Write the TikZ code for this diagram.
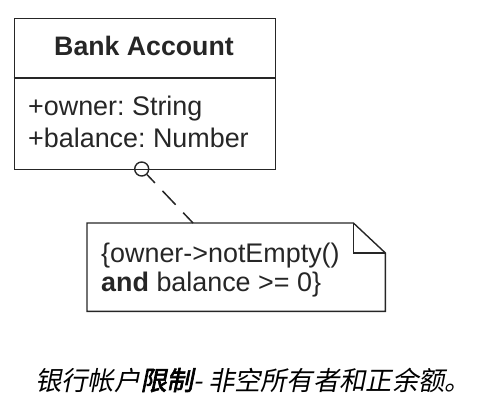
\documentclass[tikz,border=0pt]{standalone}
\usepackage{fontspec}
\setmainfont{Liberation Sans}
\newfontfamily\cjk[FakeSlant=0.2]{Noto Sans CJK SC}
\newfontfamily\cjkbold[FakeSlant=0.2,FakeBold=2.5]{Noto Sans CJK SC}
\frenchspacing
\begin{document}
\begin{tikzpicture}[x=1pt,y=-1pt,
  umlline/.style={line width=1.4pt, draw=black!85},
  umltext/.style={anchor=base west, inner sep=0, font=\fontsize{26.9}{30}\selectfont, text=black!85},
  dashconn/.style={line width=1.5pt, draw=black!85, dash pattern=on 19pt off 11pt, dash phase=7.5pt}]
\useasboundingbox (0,0) rectangle (478,416);
% class box
\node[umlline, draw, rectangle, inner sep=0, minimum width=261pt, minimum height=151.5pt, anchor=north west] (cls) at (13.5,17.5) {};
\coordinate (d1) at (13.5,78);
\coordinate (d2) at (274.5,78);
\draw[umlline] (d1) -- (d2);
\node[anchor=base, inner sep=0, font=\bfseries\fontsize{26.7}{30}\selectfont, text=black!85] (title) at (144,55) {Bank Account};
\node[umltext] (a1) at (28,115) {+owner: String};
\node[umltext] (a2) at (28,147) {+balance: Number};
% anchor circle
\node[umlline, draw, circle, inner sep=0, minimum size=14pt] (anc) at (141.7,169) {};
% note
\node[inner sep=0, minimum width=298pt, minimum height=88pt, anchor=north west] (note) at (87,223) {};
\draw[umlline, line join=miter] (note.north west) -- ([xshift=-32pt]note.north east) -- ([yshift=-30pt]note.north east) -- (note.south east) -- (note.south west) -- cycle;
\draw[umlline, line join=miter] ([xshift=-32pt]note.north east) -- ([xshift=-32pt,yshift=-30pt]note.north east) -- ([yshift=-30pt]note.north east);
\node[umltext] (n1) at (101,262) {\{owner->notEmpty()};
\node[umltext] (n2) at (101,291) {\textbf{and} balance >= 0\}};
\coordinate (nt) at (193,223);
\draw[dashconn] (anc) -- (nt);
% caption
\node[anchor=base west, inner sep=0, font=\fontsize{26.3}{30}\selectfont] (cap) at (35,390) {\cjk 银行帐户{\cjkbold 限制}- 非空所有者和正余额。};
\end{tikzpicture}
\end{document}
